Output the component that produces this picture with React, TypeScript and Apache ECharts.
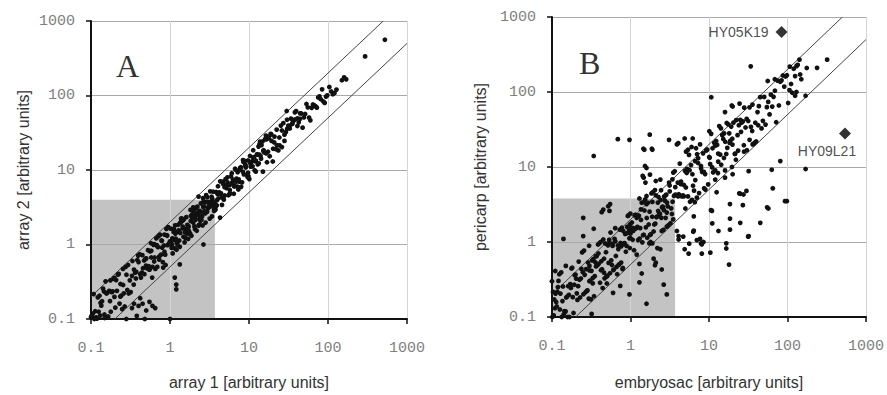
import React, { useEffect, useRef } from "react";
import * as echarts from "echarts";

// ---------- DATA ----------
const tickValues = [0.1, 1, 10, 100, 1000];
const tickLabels = ["0.1", "1", "10", "100", "1000"];

const upperLine: [number, number][] = [[0.1, 0.2], [500, 1000]];
const lowerLine: [number, number][] = [[0.2, 0.1], [1000, 500]];
const shadedBoxA: [number, number][] = [[0.1, 0.1], [3.7, 4.0]];
const shadedBoxB: [number, number][] = [[0.1, 0.1], [3.7, 3.8]];

const panelAPoints: [number, number][] = [
  // low corner
  [0.10,0.105],[0.102,0.11],[0.105,0.118],[0.108,0.216],[0.11,0.10],[0.113,0.127],[0.116,0.105],[0.119,0.101],[0.122,0.195],[0.125,0.125],
  [0.128,0.205],[0.131,0.111],[0.135,0.151],[0.138,0.173],[0.142,0.256],[0.146,0.234],[0.149,0.103],[0.153,0.32],[0.157,0.22],[0.161,0.225],
  [0.165,0.108],[0.17,0.238],[0.174,0.174],[0.178,0.125],[0.183,0.229],[0.188,0.235],[0.193,0.347],[0.198,0.356],[0.203,0.142],[0.208,0.333],
  [0.213,0.239],[0.219,0.394],[0.224,0.403],[0.23,0.161],[0.236,0.295],[0.242,0.206],[0.248,0.136],[0.254,0.47],[0.26,0.221],[0.267,0.147],
  [0.274,0.50],[0.281,0.393],[0.288,0.245],[0.295,0.531],[0.235,0.20],[0.176,0.33],[0.132,0.165],[0.255,0.286],[0.198,0.198],[0.148,0.115],
  [0.35,0.16],[0.40,0.15],[0.45,0.16],[0.50,0.13],[0.55,0.17],[0.60,0.15],[0.65,0.14],[0.38,0.11],[0.48,0.10],[0.28,0.10],
  [0.42,0.19],[0.33,0.14],[1.0,0.10],[1.2,0.25],[1.2,0.29],[1.15,0.36],[1.33,0.54],[2.65,1.0],
  // 0.3 - 1
  [0.30,0.22],[0.31,0.33],[0.318,0.23],[0.33,0.38],[0.335,0.60],[0.347,0.29],[0.35,0.46],[0.362,0.42],[0.37,0.35],[0.374,0.43],
  [0.386,0.62],[0.395,0.71],[0.40,0.58],[0.413,0.74],[0.42,0.40],[0.428,0.36],[0.44,0.42],[0.447,0.72],[0.455,0.48],[0.47,0.61],
  [0.474,0.40],[0.49,0.64],[0.497,0.52],[0.51,0.48],[0.52,0.49],[0.527,0.84],[0.54,0.51],[0.553,0.46],[0.56,0.81],[0.575,1.04],
  [0.58,0.67],[0.595,0.36],[0.60,0.50],[0.618,0.99],[0.63,1.01],[0.64,0.67],[0.652,0.47],[0.67,1.21],[0.677,0.98],[0.69,0.50],
  [0.705,0.92],[0.71,1.28],[0.73,0.69],[0.742,1.34],[0.75,1.35],[0.77,0.73],[0.78,1.13],[0.795,0.91],[0.81,0.58],[0.82,0.49],
  [0.84,0.97],[0.85,1.36],[0.87,0.73],[0.88,0.53],[0.90,1.62],[0.915,1.33],[0.93,0.98],[0.95,1.71],[0.965,1.01],[0.985,1.03],
  // 1 - 4
  [1.00,1.10],[1.02,1.63],[1.05,0.90],[1.06,1.00],[1.08,0.76],[1.11,1.47],[1.12,1.62],[1.14,0.89],[1.17,1.40],[1.18,1.20],
  [1.21,0.85],[1.23,1.48],[1.24,1.07],[1.27,1.84],[1.29,1.55],[1.31,1.13],[1.33,0.93],[1.36,1.97],[1.38,2.21],[1.40,2.24],
  [1.43,2.07],[1.45,1.74],[1.48,1.27],[1.50,2.18],[1.53,1.07],[1.55,1.46],[1.58,1.61],[1.61,2.33],[1.63,1.40],[1.66,1.83],
  [1.69,1.59],[1.72,1.75],[1.74,1.50],[1.78,1.39],[1.80,1.40],[1.84,2.43],[1.87,1.31],[1.90,2.28],[1.93,2.55],[1.97,3.15],
  [2.00,2.90],[2.04,1.75],[2.07,1.61],[2.11,2.15],[2.14,3.10],[2.18,1.53],[2.22,3.22],[2.26,2.71],[2.29,2.52],[2.34,1.83],
  [2.38,2.24],[2.42,2.08],[2.46,3.57],[2.50,2.15],[2.55,2.40],[2.59,1.81],[2.64,3.17],[2.68,3.22],[2.73,2.78],[2.77,3.66],
  [2.82,1.97],[2.87,4.59],[2.92,2.74],[2.97,4.31],[3.02,3.08],[3.07,3.13],[3.12,3.74],[3.18,2.23],[3.23,5.17],[3.29,3.62],
  [3.34,3.67],[3.40,2.38],[3.46,3.81],[3.52,5.10],[3.58,3.08],[3.64,3.13],[3.70,3.48],[3.77,2.94],[3.83,5.06],[3.90,3.35],
  [1.03,1.05],[1.13,1.15],[1.22,1.05],[1.35,1.96],[1.47,2.13],[1.57,1.22],[1.7,1.19],[1.82,2.91],[1.95,2.57],[2.09,2.30],
  [2.2,2.64],[2.36,2.83],[2.48,2.73],[2.62,4.19],[2.79,2.62],[2.95,2.77],[3.1,3.16],[3.27,3.34],[3.43,4.12],[3.62,2.82],
  [3.8,3.27],[2.3,4.4],
  // 4 - 20
  [4.0,4.75],[4.1,4.15],[4.2,5.0],[4.33,7.05],[4.42,4.86],[4.55,3.4],[4.66,6.97],[4.8,4.0],[4.92,4.54],[5.05,7.56],
  [5.2,5.72],[5.33,7.98],[5.48,4.58],[5.62,4.7],[5.78,4.83],[5.92,8.2],[6.1,6.71],[6.25,7.43],[6.42,4.8],[6.6,6.1],
  [6.78,10.1],[6.95,7.65],[7.15,5.97],[7.33,5.48],[7.55,6.97],[7.74,10.7],[7.95,5.95],[8.17,6.83],[8.4,13.6],[8.62,8.72],
  [8.85,13.2],[9.1,10.8],[9.35,8.64],[9.6,8.03],[9.85,8.24],[10.1,7.56],[10.4,12.3],[10.7,12.8],[11.0,13.1],[11.3,18.4],
  [11.6,14.9],[11.9,13.1],[12.2,13.4],[12.6,16.1],[12.9,11.9],[13.3,12.3],[13.6,22.1],[14.0,15.4],[14.4,21.6],[14.8,24.1],
  [15.2,18.0],[15.6,17.2],[16.0,26.1],[16.5,16.7],[16.9,12.7],[17.4,17.6],[17.8,26.6],[18.3,15.3],[18.8,30.6],[19.3,24.6],
  [4.05,6.06],[4.37,4.81],[4.7,6.51],[5.0,5.94],[5.35,6.83],[5.7,6.27],[6.05,9.05],[6.5,6.0],[6.9,6.99],[7.4,7.49],
  [7.9,10.9],[8.5,12.8],[9.0,11.4],[9.7,13.4],[10.3,15.4],[11.1,11.2],[11.8,9.87],[12.7,16.2],[13.5,16.1],
  [4.3,2.3],[15,9.5],[20,13],[13.8,24],[16.4,29],[30,62],
  // denser band 0.5 - 45
  [0.5,0.65],[0.54,0.464],[0.58,0.824],[0.63,0.592],[0.68,0.966],[0.73,0.628],[0.79,1.12],[0.85,0.80],[0.92,1.31],[0.99,1.05],
  [1.07,1.21],[1.16,1.81],[1.25,0.975],[1.35,1.43],[1.45,1.64],[1.57,1.48],[1.69,1.69],[1.83,2.07],[1.97,1.97],[2.13,2.56],
  [2.3,1.79],[2.48,2.33],[2.67,3.79],[2.88,3.74],[3.11,3.3],[3.36,4.37],[3.62,3.11],[3.91,3.91],[4.22,4.77],[4.55,4.28],
  [4.91,5.89],[5.3,6.36],[5.72,5.38],[6.17,6.54],[6.66,10.4],[7.18,9.33],[7.75,10.1],[8.36,9.45],[9.02,11.7],[9.73,9.15],
  [10.5,11.1],[11.3,14.7],[12.2,9.52],[13.2,20.6],[14.2,14.2],[15.3,18.4],[16.5,25.7],[17.8,27.8],[19.2,30.0],[20.8,23.5],
  [22.4,34.9],[24.2,27.3],[26.1,33.9],[28.1,29.8],[30.3,47.3],[32.7,39.2],[35.3,42.4],[38.1,59.4],[41.1,49.3],[44.3,57.6],
  // 20 - 600
  [20.2,19.3],[21.0,28.1],[21.9,19.1],[22.6,21.5],[23.5,18.3],[24.4,21.4],[25.3,39.5],[26.1,20.3],[27.2,42.5],[28.1,24.6],
  [29.3,32.3],[30.4,35.8],[31.5,39.4],[32.8,36.1],[34.0,48.9],[35.3,41.5],[36.7,45.9],[38.1,47.6],[39.5,61.8],[41.0,39],
  [42.6,43.6],[44.2,48.6],[45.9,57.4],[47.7,37],[49.5,50.8],[51.4,56.5],[53.4,76.8],[55.5,69.4],[57.6,50.4],[59.8,46.4],
  [62.1,68.3],[64.5,75.8],[67.0,73.8],[69.6,71.4],[72.3,68.6],[75.1,93.9],[78.0,97.5],[81,89.1],[84.2,121],[87.4,83],
  [90.8,79.5],[94.3,96.6],[98,100.5],[104,130],[110,113],[115,104],[121,108],[128,120],[150,160],[160,175],
  [170,165],[295,335],[525,560]
];

const panelBPoints: [number, number][] = [
  // 0.1 - 0.3
  [0.100,0.30],[0.101,0.10],[0.103,0.216],[0.105,0.105],[0.107,0.171],[0.109,0.131],[0.111,0.205],[0.113,0.158],[0.115,0.138],[0.117,0.216],
  [0.119,0.25],[0.121,0.303],[0.124,0.372],[0.126,0.126],[0.128,0.205],[0.131,0.393],[0.133,0.10],[0.136,0.163],[0.138,0.255],[0.141,0.108],
  [0.144,0.12],[0.146,0.117],[0.149,0.119],[0.152,0.182],[0.155,0.186],[0.158,0.10],[0.161,0.258],[0.164,0.197],[0.167,0.10],[0.171,0.274],
  [0.174,0.244],[0.177,0.443],[0.181,0.453],[0.184,0.184],[0.188,0.113],[0.192,0.269],[0.195,0.361],[0.199,0.368],[0.203,0.325],[0.207,0.207],
  [0.211,0.169],[0.215,0.258],[0.219,0.548],[0.224,0.314],[0.228,0.182],[0.233,0.326],[0.237,0.438],[0.242,0.726],[0.247,0.395],[0.251,0.201],
  [0.256,0.768],[0.261,0.365],[0.267,0.214],[0.272,0.435],[0.277,0.222],[0.283,0.226],[0.288,0.533],[0.294,0.176],[0.297,0.891],[0.299,0.419],
  // 0.3 - 1
  [0.30,0.30],[0.306,0.306],[0.312,0.172],[0.318,0.413],[0.324,0.567],[0.33,0.281],[0.337,0.59],[0.343,0.189],[0.35,0.35],[0.357,0.536],
  [0.364,0.473],[0.371,0.649],[0.378,0.491],[0.386,0.926],[0.393,0.511],[0.401,0.962],[0.409,0.286],[0.417,1.0],[0.425,0.553],[0.433,0.433],
  [0.442,0.243],[0.45,1.08],[0.459,0.39],[0.468,0.328],[0.477,0.954],[0.487,0.731],[0.496,0.347],[0.506,0.354],[0.516,0.903],[0.526,0.526],
  [0.536,1.07],[0.547,0.383],[0.557,1.34],[0.568,0.568],[0.58,0.493],[0.591,0.887],[0.603,0.422],[0.614,0.43],[0.626,1.1],[0.639,1.53],
  [0.651,0.651],[0.664,0.465],[0.677,0.372],[0.69,0.897],[0.704,0.493],[0.718,0.503],[0.732,1.46],[0.746,0.97],[0.761,0.875],[0.776,1.55],
  [0.791,0.435],[0.806,1.41],[0.822,0.945],[0.838,0.964],[0.855,1.28],[0.872,0.741],[0.889,0.889],[0.906,1.59],[0.924,2.22],[0.942,2.26],
  [0.96,1.44],[0.979,0.832],[0.985,1.72],[0.99,1.14],[0.995,2.39],
  // 1 - 4
  [1.0,1.3],[1.02,1.53],[1.04,1.82],[1.065,1.07],[1.085,1.41],[1.11,0.777],[1.13,2.26],[1.155,2.31],[1.18,1.53],[1.2,2.1],
  [1.225,1.59],[1.25,1.06],[1.28,2.24],[1.305,1.11],[1.33,1.53],[1.36,2.72],[1.39,3.34],[1.415,0.99],[1.445,1.23],[1.475,1.25],
  [1.505,2.63],[1.54,3.7],[1.57,1.57],[1.6,3.2],[1.635,1.14],[1.67,3.34],[1.705,1.71],[1.74,0.957],[1.775,1.24],[1.815,1.27],
  [1.85,4.44],[1.89,2.17],[1.93,4.63],[1.97,1.38],[2.01,1.71],[2.05,4.92],[2.095,4.19],[2.14,2.14],[2.18,2.18],[2.23,3.35],
  [2.275,3.98],[2.32,2.32],[2.37,2.37],[2.42,3.63],[2.47,2.1],[2.52,2.9],[2.575,2.96],[2.63,1.45],[2.68,4.02],[2.74,3.56],
  [2.795,4.19],[2.855,4.28],[2.91,3.35],[2.975,2.98],[3.035,1.67],[3.1,6.2],[3.16,4.74],[3.23,1.78],[3.3,2.81],[3.37,2.36],
  [3.44,3.44],[3.51,8.42],[3.58,4.12],[3.66,8.78],[3.73,4.29],
  // 4 - 20
  [4.0,6.2],[4.12,4.33],[4.25,11.1],[4.38,5.91],[4.5,4.05],[4.65,4.19],[4.79,5.75],[4.94,8.89],[5.08,5.33],[5.24,9.43],
  [5.4,4.05],[5.56,14.5],[5.73,3.44],[5.9,10.6],[6.08,3.65],[6.26,5.63],[6.45,4.84],[6.64,12.0],[6.84,17.8],[7.05,14.8],
  [7.26,11.3],[7.48,4.49],[7.7,20.0],[7.93,9.52],[8.17,8.58],[8.42,15.2],[8.67,5.2],[8.93,8.04],[9.2,16.6],[9.48,17.1],
  [9.76,5.86],[10.05,13.6],[10.35,10.9],[10.66,27.7],[10.98,9.88],[11.3,8.48],[11.65,21.0],[12.0,9.0],[12.35,22.2],[12.7,19.7],
  [13.1,11.8],[13.5,35.1],[13.9,14.6],[14.3,10.7],[14.75,26.6],[15.2,23.6],[15.6,28.1],[16.1,21.7],[16.6,14.9],[17.1,18.0],
  [17.6,37.0],[18.1,28.1],[18.7,22.4],[19.2,34.6],[19.8,23.8],
  // denser band 0.3 - 45
  [0.3,0.48],[0.33,0.33],[0.36,0.648],[0.39,0.702],[0.42,0.42],[0.46,0.598],[0.5,0.35],[0.54,0.972],[0.59,0.944],[0.64,1.02],
  [0.7,0.805],[0.76,0.532],[0.82,0.943],[0.9,1.31],[0.97,1.12],[1.06,1.54],[1.15,1.5],[1.25,2.25],[1.36,1.97],[1.48,3.4],
  [1.61,2.09],[1.75,2.54],[1.9,3.42],[2.07,1.76],[2.25,2.59],[2.45,4.9],[2.66,2.66],[2.9,2.47],[3.15,5.67],[3.42,6.84],
  [3.72,5.39],[4.05,4.05],[4.4,6.38],[4.78,4.06],[5.2,8.32],[5.66,9.06],[6.15,8.0],[6.69,6.69],[7.27,13.1],[7.91,10.3],
  [8.6,8.6],[9.35,16.8],[10.2,13.3],[11.1,17.8],[12.0,19.2],[13.1,15.1],[14.2,32.7],[15.5,13.2],[16.8,38.6],[18.3,21],
  [19.9,19.9],[21.6,15.1],[23.5,16.5],[25.6,29.4],[27.8,19.5],[30.2,43.8],[32.9,62.5],[35.8,68],[38.9,38.9],[42.3,36],
  // trail above the lower line
  [0.5,0.28],[0.8,0.45],[1.2,0.68],[1.8,1.0],[2.5,1.4],[3.5,2.0],[5,2.8],[7,3.9],[9,5.0],[12,6.8],[16,9],[22,12.5],[28,16],[36,20],
  // 20 - 400
  [20.5,39],[21.3,14.9],[22.2,42.2],[23.1,26.6],[24.0,36],[25.0,42.5],[26.0,39],[27.0,40.5],[28.1,61.8],[29.2,33.6],
  [30.4,16.7],[31.6,41.1],[32.9,23],[34.2,34.2],[35.5,30.2],[36.9,20.3],[38.4,21.1],[39.9,21.9],[41.5,54],[43.2,64.8],
  [44.9,85.3],[46.7,32.7],[48.6,41.3],[50.5,85.9],[52.5,36.8],[54.6,62.8],[56.8,73.8],[59.1,50.2],[61.4,92.1],[63.9,63.9],
  [66.4,86.3],[69.1,104],[71.8,39.5],[74.7,142],[77.7,66],[80.8,137],[84.0,143],[87.4,166],[90.9,118],[94.5,161],
  [98.3,167],[102,71.4],[106,106],[111,128],[115,97.8],[120,204],[125,163],[130,221],[135,230],[142,270],
  [107,218],[145,171],[150,148],[176,209],[238,210],[320,270],[69,148],[56,140],[125,89],[130,100],[170,89],
  // above the band
  [0.34,14],[0.69,23.5],[0.97,23],[1.76,27],[1.5,17],[1.9,17],[1.6,9.7],[1.47,7.2],[1.55,6.2],[2.1,6.5],
  [3.9,20],[4.9,24],[6.2,24],[5.1,16],[6.0,18.5],[0.25,2.1],[0.14,1.1],[0.52,3.0],[0.54,2.6],[0.45,2.7],
  [0.55,3.2],[0.34,1.5],[0.25,1.2],[0.43,2.5],[34,220],[10.7,85],[20,64],[24.5,70],[0.15,0.48],[0.11,0.41],
  [1.46,17.5],[1.87,17.5],[3.1,23],[1.53,10.3],[1.43,7.6],[1.77,7.9],[4.06,20.8],[5.4,17],[10.1,30],[16,54],
  [19.5,66],[1.6,4.1],[1.3,3.8],[2.4,6.8],
  // below the band
  [170,9.4],[98,3.5],[81,12],[65,5.2],[63,9.2],[55,2.9],[57,2.8],[45,1.8],[32,1.2],[32,8.8],
  [27,3.1],[25,1.8],[30,4.8],[25,4.4],[18.5,3.2],[18.5,2.05],[18.5,1.46],[18,0.5],[16.6,0.96],[16.6,0.82],
  [13.2,1.4],[11,1.77],[10.4,0.72],[10.9,2.6],[8.1,0.93],[8.5,1.0],[7.7,1.1],[6.4,1.42],[8.1,0.7],[6.4,2.2],
  [5.6,0.95],[4.9,0.8],[5.5,0.7],[3.9,1.4],[4.1,1.2],[6.6,3.4],[13,8.3],[16,7.2],[20,8],[19.6,10],
  [2.8,2.1],[2.9,1.6],[2.4,0.8],[2.2,0.83],[1.97,0.6],[2.5,0.43],[2.9,0.2],[2.65,0.27],[1.6,0.15],[0.97,0.2],
  [1.3,0.29],[1.9,0.96],[2.1,0.53],[2.05,0.49],[0.74,0.26],[0.6,0.21],[0.32,0.11],[1.39,0.38],[1.3,0.51],[4.1,1.08],
  [6.3,1.37],[93,3.5],[27.5,4.3],[24.3,4.45],[10.6,2.66],[12.5,4.6],[31.5,1.18],[7.0,1.06],[4.7,1.18],[7.9,0.96]
];

const labelledGenes = ["HY05K19", "HY09L21"];
const labelledPoints: [number, number][] = [[84, 630], [540, 28]];

// ---------- CHART ----------
const tickFmt = (v: number) => {
  const i = tickValues.findIndex((t) => Math.abs(t - v) / t < 1e-6);
  return i >= 0 ? tickLabels[i] : "";
};

function makeAxis(gridIndex: number, isX: boolean, name: string, nameGap: number) {
  return {
    type: "log",
    logBase: 10,
    min: 0.1,
    max: 1000,
    gridIndex,
    name,
    nameLocation: "middle",
    nameGap,
    nameTextStyle: { fontFamily: "Liberation Sans, Arial, sans-serif", fontSize: 16, color: "#333" },
    axisLine: { show: true, onZero: false, lineStyle: { color: "#111", width: 2 } },
    axisTick: { show: true, inside: false, length: 5, lineStyle: { color: "#111", width: 1.5 } },
    minorTick: { show: false },
    axisLabel: {
      formatter: tickFmt,
      margin: isX ? 22 : 16,
      fontFamily: "Liberation Mono, monospace",
      fontSize: 15,
      color: "#808080",
    },
    splitLine: {
      show: true,
      showMinLine: false,
      lineStyle: { color: isX ? "#d4d4d4" : "#a8a8a8", width: 1 },
    },
  };
}

function panelSeries(idx: number, pts: [number, number][], box: [number, number][]) {
  return [
    {
      type: "scatter",
      xAxisIndex: idx,
      yAxisIndex: idx,
      data: [],
      z: -1,
      silent: true,
      markArea: {
        silent: true,
        z: -1,
        itemStyle: { color: "#c3c3c3", opacity: 1 },
        data: [[{ coord: box[0] }, { coord: box[1] }]],
      },
    },
    {
      type: "line",
      xAxisIndex: idx,
      yAxisIndex: idx,
      data: upperLine,
      symbol: "none",
      lineStyle: { color: "#444", width: 1 },
      z: 3,
    },
    {
      type: "line",
      xAxisIndex: idx,
      yAxisIndex: idx,
      data: lowerLine,
      symbol: "none",
      lineStyle: { color: "#444", width: 1 },
      z: 3,
    },
    {
      type: "scatter",
      xAxisIndex: idx,
      yAxisIndex: idx,
      data: pts,
      symbol: "circle",
      symbolSize: 4.8,
      itemStyle: { color: "#111", opacity: 1 },
      z: 4,
    },
  ];
}

export default function App() {
  const ref = useRef<HTMLDivElement>(null);
  useEffect(() => {
    document.body.style.margin = "0";
    if (!ref.current) return;
    const chart = echarts.init(ref.current, undefined, { renderer: "svg" });
    chart.setOption({
      animation: false,
      backgroundColor: "#fff",
      grid: [
        { left: 91, top: 21, width: 316, height: 301 },
        { left: 552, top: 17, width: 314, height: 305 },
      ],
      xAxis: [
        makeAxis(0, true, "array 1 [arbitrary units]", 55),
        makeAxis(1, true, "embryosac [arbitrary units]", 57),
      ],
      yAxis: [
        makeAxis(0, false, "array 2 [arbitrary units]", 60),
        makeAxis(1, false, "pericarp [arbitrary units]", 64),
      ],
      title: [
        { text: "A", left: 111, top: 45, textStyle: { fontFamily: "Liberation Serif, serif", fontSize: 32, fontWeight: "normal", color: "#333" } },
        { text: "B", left: 574, top: 42, textStyle: { fontFamily: "Liberation Serif, serif", fontSize: 32, fontWeight: "normal", color: "#333" } },
      ],
      series: [
        ...panelSeries(0, panelAPoints, shadedBoxA),
        ...panelSeries(1, panelBPoints, shadedBoxB),
        {
          type: "scatter",
          xAxisIndex: 1,
          yAxisIndex: 1,
          symbol: "diamond",
          symbolSize: 12,
          itemStyle: { color: "#000" },
          z: 5,
          data: [
            {
              name: labelledGenes[0],
              value: labelledPoints[0],
              label: { show: true, position: "left", distance: 7, formatter: "{b}" },
            },
            {
              name: labelledGenes[1],
              value: labelledPoints[1],
              label: { show: true, position: "bottom", distance: 5, offset: [-18, 0], formatter: "{b}" },
            },
          ],
          label: { fontFamily: "Liberation Sans, Arial, sans-serif", fontSize: 14, color: "#222" },
        },
      ],
    });
    return () => chart.dispose();
  }, []);
  return <div ref={ref} style={{ width: 887, height: 395 }} />;
}
